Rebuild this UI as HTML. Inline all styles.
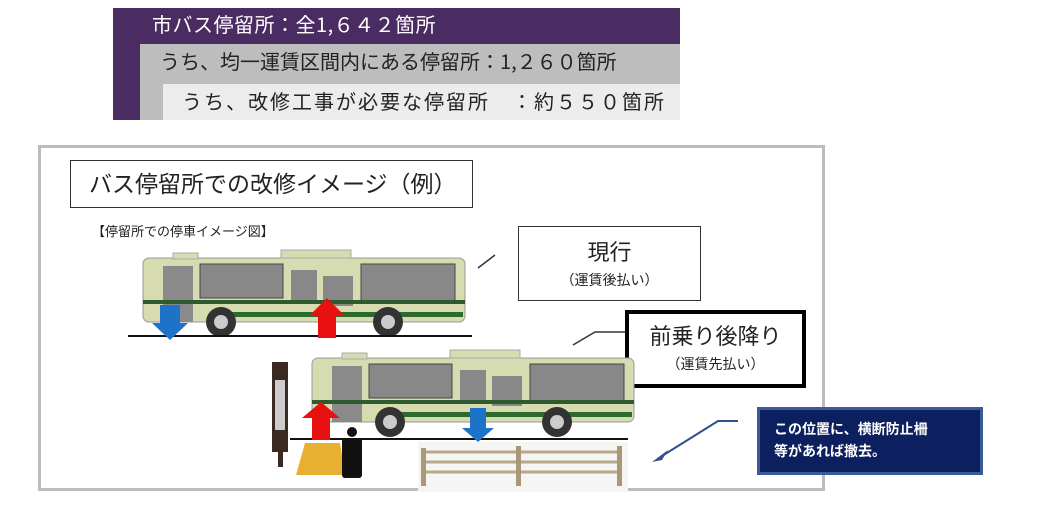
<!DOCTYPE html>
<html><head><meta charset="utf-8"><style>
body{margin:0;width:1051px;height:509px;background:#fff;position:relative;overflow:hidden;font-family:"Liberation Sans","Noto Sans CJK JP",sans-serif}
.a{position:absolute}
.j{font-family:"Noto Sans CJK JP",sans-serif}
</style></head><body>
<div class="a" style="left:113px;top:8px;width:567px;height:112px;background:#4a2b62"></div>
<div class="a j" style="left:152px;top:10px;color:#fff;font-size:20px;line-height:28px;letter-spacing:0.5px">市バス停留所：全1,６４２箇所</div>
<div class="a" style="left:140px;top:44px;width:540px;height:76px;background:#bdbdbd"></div>
<div class="a j" style="left:160px;top:47px;color:#222;font-size:20px;line-height:28px;letter-spacing:0px">うち、均一運賃区間内にある停留所：1,２６０箇所</div>
<div class="a" style="left:163px;top:84px;width:517px;height:36px;background:#ececec"></div>
<div class="a j" style="left:182px;top:87px;color:#222;font-size:20px;line-height:28px;letter-spacing:2px">うち、改修工事が必要な停留所　：約５５０箇所</div>

<div class="a" style="left:38px;top:145px;width:781px;height:340px;border:3px solid #bcbcbc"></div>
<div class="a" style="left:70px;top:160px;width:401px;height:46px;border:1.5px solid #333;font-size:23px;line-height:46px;text-indent:18px;color:#222">バス停留所での改修イメージ（例）</div>
<div class="a" style="left:92px;top:221px;font-size:13px;color:#222">【停留所での停車イメージ図】</div>

<div class="a" style="left:518px;top:226px;width:181px;height:73px;border:1.5px solid #333;text-align:center;color:#222"><div style="font-size:22px;margin-top:8px">現行</div><div style="font-size:14px;margin-top:3px">（運賃後払い）</div></div>
<div class="a" style="left:625px;top:310px;width:173px;height:70px;border:4px solid #000;text-align:center;color:#222"><div style="font-size:22px;margin-top:5px">前乗り後降り</div><div style="font-size:14px;margin-top:3px">（運賃先払い）</div></div>
<div class="a" style="left:757px;top:407px;width:206px;height:54px;background:#0c1f5e;border:3px solid #3a5a9c;color:#fff;font-size:14px;font-weight:bold;line-height:22px;padding:8px 0 0 14px">この位置に、横断防止柵<br>等があれば撤去。</div>

<svg class="a" style="left:0;top:0" width="1051" height="509">
<defs><g id="bus">
<rect x="10" y="8" width="322" height="64" rx="6" fill="#d6dcb0" stroke="#999" />
<rect x="40" y="3" width="25" height="6" fill="#d6dcb0" stroke="#aaa"/>
<rect x="148" y="0" width="70" height="8" fill="#d6dcb0" stroke="#aaa"/>
<rect x="30" y="16" width="30" height="56" fill="#8a8a8a"/>
<rect x="67" y="14" width="83" height="34" fill="#888" stroke="#444"/>
<rect x="158" y="20" width="26" height="30" fill="#888"/>
<rect x="190" y="26" width="30" height="30" fill="#888"/>
<rect x="228" y="14" width="94" height="38" fill="#888" stroke="#444"/>
<rect x="10" y="50" width="322" height="4" fill="#2e5a2e"/>
<rect x="90" y="62" width="240" height="5" fill="#2e6a2e"/>
<circle cx="88" cy="72" r="15" fill="#333"/><circle cx="88" cy="72" r="7" fill="#ccc"/>
<circle cx="255" cy="72" r="15" fill="#333"/><circle cx="255" cy="72" r="7" fill="#ccc"/>
</g></defs>
<use href="#bus" x="133" y="250"/>
<line x1="128" y1="336" x2="472" y2="336" stroke="#111" stroke-width="2"/>
<polygon points="160,305 180,305 180,323 188,323 170,340 152,323 160,323" fill="#1e73c8"/>
<polygon points="318,338 336,338 336,315 344,315 327,298 310,315 318,315" fill="#e81010"/>
<use href="#bus" x="302" y="350"/>
<line x1="290" y1="439" x2="628" y2="439" stroke="#111" stroke-width="2"/>
<polygon points="312,440 330,440 330,418 340,418 321,402 302,418 312,418" fill="#e81010"/>
<polygon points="470,408 486,408 486,428 494,428 478,442 462,428 470,428" fill="#1e73c8"/>
<rect x="272" y="362" width="16" height="90" fill="#3a2a22"/><rect x="275" y="380" width="10" height="50" fill="#ccc"/><rect x="278" y="452" width="5" height="15" fill="#3a2a22"/>
<polygon points="305,443 340,443 345,475 296,475" fill="#e8b030"/>
<circle cx="352" cy="432" r="5" fill="#111"/><rect x="342" y="438" width="20" height="40" rx="3" fill="#111"/>
<rect x="418" y="442" width="210" height="50" fill="#f5f5f3"/>
<g stroke="#b8a888" stroke-width="3"><line x1="425" y1="452" x2="620" y2="452"/><line x1="425" y1="462" x2="620" y2="462"/><line x1="425" y1="472" x2="620" y2="472"/></g>
<g fill="#a89878"><rect x="421" y="448" width="5" height="38"/><rect x="516" y="446" width="5" height="40"/><rect x="617" y="446" width="5" height="40"/></g>
<line x1="478" y1="268" x2="495" y2="255" stroke="#333" stroke-width="1.5"/>
<polyline points="573,345 595,332 625,332" fill="none" stroke="#333" stroke-width="1.5"/>
<polyline points="738,421 718,421 662,456" fill="none" stroke="#2f4f8f" stroke-width="2"/>
<polygon points="652,462 668,450 662,460" fill="#2f4f8f"/>
</svg>
</body></html>
